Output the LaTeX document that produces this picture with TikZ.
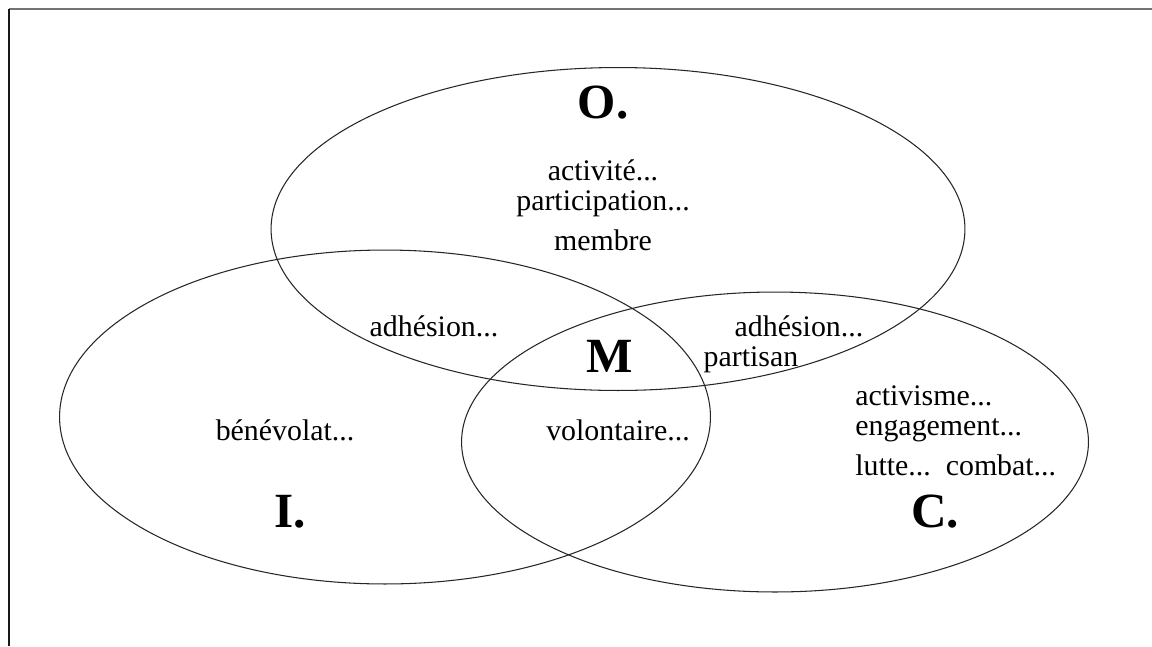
\documentclass[tikz,border=0pt]{standalone}
\usepackage{fontspec}
\setmainfont{Liberation Serif}
\usetikzlibrary{shapes.geometric}

\begin{document}
\begin{tikzpicture}[x=0.02cm, y=-0.02cm,
  set/.style={draw, ellipse, inner sep=0pt, line width=0.6pt, color=black!85},
  word/.style={font=\fontsize{17}{19}\selectfont, inner sep=0pt},
  letter/.style={font=\fontsize{28}{30}\selectfont\bfseries, inner sep=0pt}]
\useasboundingbox (0,0) rectangle (1152,646);
\draw[black!55, line width=1.2pt] (9,9) -- (1152,9);
\draw[black!90, line width=0.8pt] (9,9) -- (9,646);
\node[set, minimum width=13.88cm, minimum height=6.46cm] (setO) at (618,229) {};
\node[set, minimum width=13.02cm, minimum height=6.68cm] (setI) at (385,417) {};
\node[set, minimum width=12.54cm, minimum height=6.00cm] (setC) at (775,442) {};
\node[letter] (o) at (603,103) {O.};
\node[word] (o1) at (603,170) {activité...};
\node[word] (o2) at (603,204) {participation...};
\node[word] (o3) at (603,240) {membre};
\node[word] (oi) at (434,326) {adhésion...};
\node[word] (oc1) at (799,326) {adhésion...};
\node[word] (oc2) at (751,360) {partisan};
\node[letter] (m) at (610,356) {M};
\node[word] (i1) at (285,430) {bénévolat...};
\node[word] (ic) at (618,430) {volontaire...};
\node[letter] (i) at (290,512) {I.};
\node[word, anchor=west] (c1) at (855,396) {activisme...};
\node[word, anchor=west] (c2) at (855,430) {engagement...};
\node[word, anchor=west] (c3) at (855,465) {lutte...\ \ combat...};
\node[letter] (c) at (935,512) {C.};
\end{tikzpicture}
\end{document}
